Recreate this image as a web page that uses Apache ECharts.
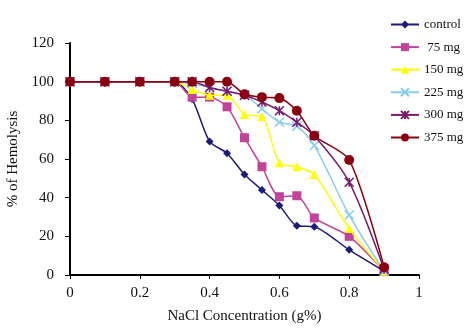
<!DOCTYPE html>
<html><head><meta charset="utf-8">
<script src="https://cdn.jsdelivr.net/npm/echarts@6/dist/echarts.min.js"></script>
<style>html,body{margin:0;padding:0;background:#fff}#c{width:466px;height:330px}</style>
</head><body><div id="c"></div>
<script>
var xValues = [0, 0.1, 0.2, 0.3, 0.35, 0.4, 0.45, 0.5, 0.55, 0.6, 0.65, 0.7, 0.8, 0.9];
var seriesNames = ['control', ' 75 mg', '150 mg', '225 mg', '300 mg', '375 mg'];
var control = [100, 100, 100, 100, 91, 69, 63, 52, 44, 36, 25.5, 25, 13, 2];
var mg75 = [100, 100, 100, 100, 92, 92, 87, 71, 56, 40.5, 41, 29.5, 20, 2];
var mg150 = [100, 100, 100, 100, 96, 93, 93, 83, 82, 58, 56, 52, 24, 2];
var mg225 = [100, 100, 100, 100, 99, 97, 95, 93, 86, 79, 77, 67, 31, 2];
var mg300 = [100, 100, 100, 100, 100, 97, 95, 93, 89.5, 85, 79, 72, 48, 3];
var mg375 = [100, 100, 100, 100, 100, 100, 100, 93.5, 92, 91.5, 85, 72, 59.5, 4];
var xTicks = [0, 0.2, 0.4, 0.6, 0.8, 1];
var yTicks = [0, 20, 40, 60, 80, 100, 120];

var values = [control, mg75, mg150, mg225, mg300, mg375];
var colors = ['#1B1B7D', '#C2449A', '#FFFF00', '#87CEEB', '#7A1A6E', '#8B0010'];
var symbols = ['diamond', 'rect', 'triangle',
  'path://M0,0L10,10M10,0L0,10',
  'path://M0,0L10,10M10,0L0,10M5,0L5,10',
  'circle'];
var sizes = [8, 9, 9, 9, 9, 10];
var font = 'Liberation Serif';

function pairs(arr) { return xValues.map(function (x, i) { return [x, arr[i]]; }); }

var series = values.map(function (v, i) {
  var isPath = symbols[i].indexOf('path') === 0;
  return {
    name: seriesNames[i], type: 'line', data: pairs(v), smooth: 0.25,
    symbol: symbols[i], symbolSize: sizes[i],
    lineStyle: { color: colors[i], width: 1.5 },
    itemStyle: isPath ? { color: colors[i], borderColor: colors[i], borderWidth: 1.5 } : { color: colors[i] },
    z: 2 + i
  };
});

var chart = echarts.init(document.getElementById('c'), null, { renderer: 'canvas' });
chart.setOption({
  animation: false,
  backgroundColor: '#fff',
  color: colors,
  grid: { left: 70, right: 47, top: 43, bottom: 55, containLabel: false, outerBoundsMode: 'none' },
  legend: {
    orient: 'vertical', left: 390, top: 18, padding: 0, itemWidth: 28, itemHeight: 10, itemGap: 9.6,
    textStyle: { fontFamily: font, fontSize: 13, color: '#111' },
    data: seriesNames
  },
  xAxis: {
    type: 'value', min: 0, max: 1, interval: 0.2,
    name: 'NaCl Concentration (g%)', nameLocation: 'middle', nameGap: 34,
    nameTextStyle: { fontFamily: font, fontSize: 15, color: '#111' },
    axisLine: { lineStyle: { color: '#000', width: 2 } },
    axisTick: { show: true, length: 4, lineStyle: { color: '#000' } },
    axisLabel: { fontFamily: font, fontSize: 15, color: '#111', margin: 11,
      formatter: function (v) { return xTicks.indexOf(+v.toFixed(1)) >= 0 ? String(+v.toFixed(1)) : ''; } },
    splitLine: { show: false }
  },
  yAxis: {
    type: 'value', min: 0, max: 120, interval: 20,
    name: '% of Hemolysis', nameLocation: 'middle', nameGap: 46, nameRotate: 90,
    nameTextStyle: { fontFamily: font, fontSize: 15, color: '#111' },
    axisLine: { show: true, lineStyle: { color: '#000', width: 2 } },
    axisTick: { show: true, length: 5, lineStyle: { color: '#000' } },
    axisLabel: { fontFamily: font, fontSize: 15, color: '#111', margin: 16,
      formatter: function (v) { return yTicks.indexOf(v) >= 0 ? String(v) : ''; } },
    splitLine: { show: false }
  },
  series: series
});
</script></body></html>
